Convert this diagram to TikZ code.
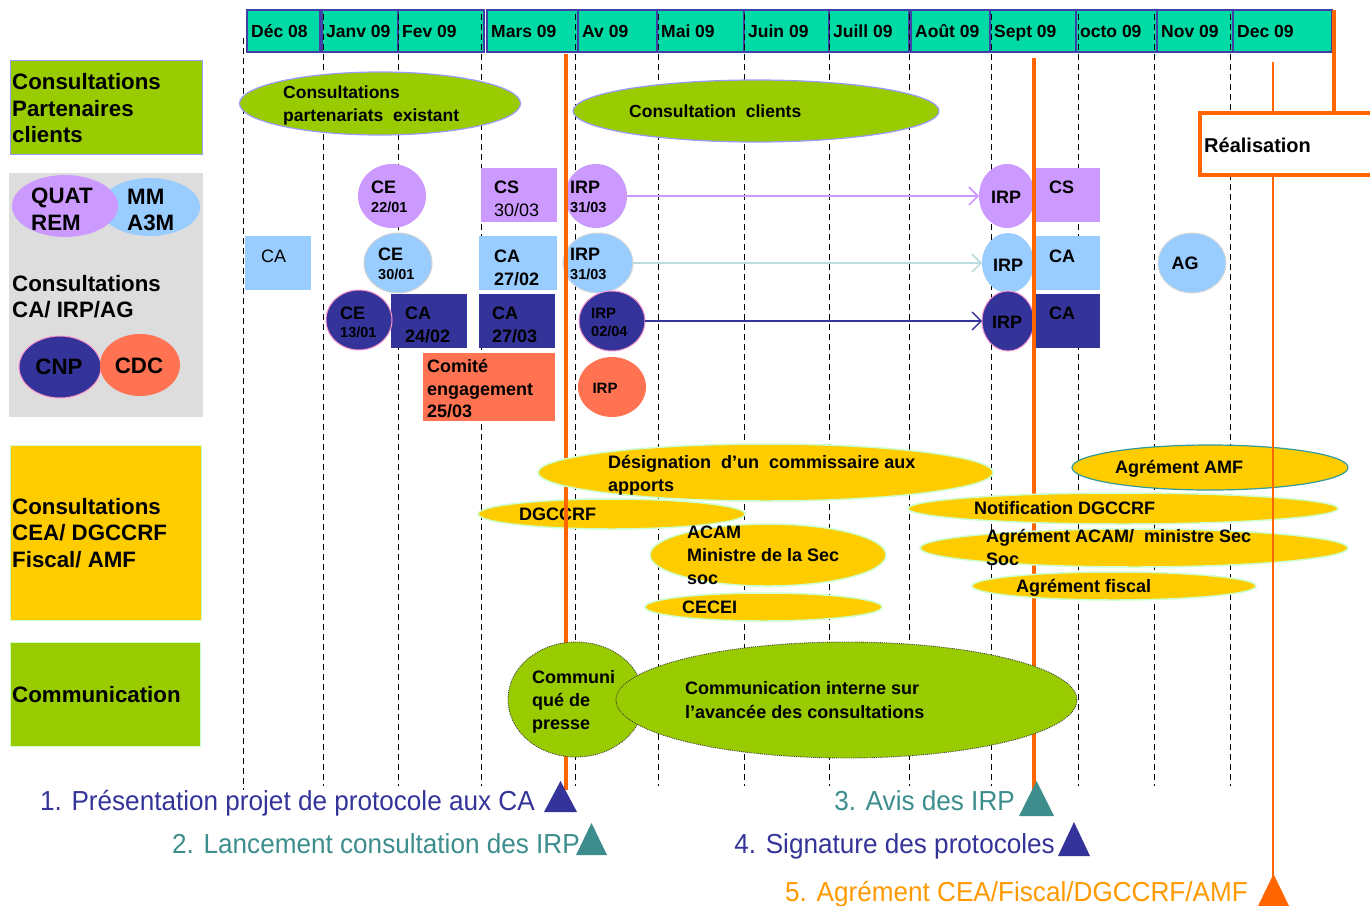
\documentclass[tikz,border=0pt]{standalone}
\usepackage{fontspec}
\setmainfont{Liberation Sans}
\newfontfamily\narrowfont[FakeStretch=0.95]{Liberation Sans}
\usetikzlibrary{shapes.geometric,arrows.meta}
\definecolor{hdr}{HTML}{00DBA5}
\definecolor{hdrline}{HTML}{4040A8}
\definecolor{grn}{HTML}{99CC00}
\definecolor{lborder}{HTML}{9999FF}
\definecolor{vio}{HTML}{CC99FF}
\definecolor{lblue}{HTML}{99CCFF}
\definecolor{dblue}{HTML}{333399}
\definecolor{coral}{HTML}{FF7352}
\definecolor{lgray}{HTML}{DDDDDD}
\definecolor{yel}{HTML}{FFCC00}
\definecolor{yborder}{HTML}{CCFFCC}
\definecolor{orng}{HTML}{FF6600}
\definecolor{orng2}{HTML}{FF9900}
\definecolor{teal2}{HTML}{3D8D8D}
\definecolor{pinkb}{HTML}{FF99CC}
\definecolor{cyanarr}{HTML}{BBDDDD}
\definecolor{amfb}{HTML}{339999}
\newcommand\fsz[2]{\fontsize{#1}{#2}\selectfont}
\begin{document}
\begin{tikzpicture}[x=1pt,y=-1pt,
  shp/.style={inner sep=0pt, outer sep=0pt},
  ell/.style={shp, ellipse},
  rbox/.style={shp, rectangle, anchor=north west},
  hdrbox/.style={shp, rectangle, draw=hdrline, fill=hdr, line width=1.2pt},
  hd/.style={inner sep=0pt, anchor=base west, font=\bfseries\fsz{17.5}{20}},
  bA/.style={inner sep=0pt, anchor=base west, font=\bfseries\fsz{18}{20}},
  bS/.style={inner sep=0pt, anchor=base west, font=\bfseries\fsz{14.5}{16}},
  rA/.style={inner sep=0pt, anchor=base west, font=\fsz{18}{20}},
  bL/.style={inner sep=0pt, anchor=base west, font=\bfseries\fsz{22.3}{24}},
  bE/.style={inner sep=0pt, anchor=base west, font=\bfseries\fsz{17.5}{20}},
  ms/.style={inner sep=0pt, anchor=base east, font=\narrowfont\fsz{27.5}{30}},
  dash line/.style={line width=1pt, dash pattern=on 6pt off 4pt},
  orthick/.style={draw=orng, line width=4pt},
  yell/.style={ell, fill=yel, draw=yborder, line width=1.5pt},
  gell/.style={ell, fill=grn, draw=lborder, line width=1.2pt},
  arr/.style={-{Straight Barb[length=9pt,width=18pt]}, line width=1.6pt}
]
\useasboundingbox (0,0) rectangle (1370,905);

% ---------- left column ----------
\node[rbox, fill=grn, draw=lborder, line width=1pt, minimum width=192, minimum height=94] (lb1) at (10,60) {};
\node[bL] (lb1a) at (12,89) {Consultations};
\node[bL] (lb1b) at (12,116) {Partenaires};
\node[bL] (lb1c) at (12,142) {clients};

\node[rbox, fill=lgray, minimum width=194, minimum height=244] (lb2) at (9,173) {};
\node[ell, fill=lblue, minimum width=100, minimum height=58] (mm) at (150,207) {};
\node[ell, fill=vio, minimum width=106, minimum height=62] (quat) at (65,206) {};
\node[bL] (quata) at (31,203) {QUAT};
\node[bL] (quatb) at (31,230) {REM};
\node[bL] (mma) at (127,204) {MM};
\node[bL] (mmb) at (127,230) {A3M};
\node[bL] (lb2a) at (12,291) {Consultations};
\node[bL] (lb2b) at (12,317) {CA/ IRP/AG};
\node[ell, fill=dblue, draw=pinkb, line width=1pt, minimum width=82, minimum height=62] (cnp) at (60,367) {};
\node[ell, fill=coral, minimum width=80, minimum height=62] (cdc) at (140,365) {};
\node[inner sep=0pt, font=\bfseries\fsz{22.3}{24}] (cnpt) at (59,367) {CNP};
\node[inner sep=0pt, font=\bfseries\fsz{22.3}{24}] (cdct) at (139,366) {CDC};

\node[rbox, fill=yel, draw=yborder, line width=1pt, minimum width=191, minimum height=175] (lb3) at (10,445) {};
\node[bL] (lb3a) at (12,514) {Consultations};
\node[bL] (lb3b) at (12,540) {CEA/ DGCCRF};
\node[bL] (lb3c) at (12,567) {Fiscal/ AMF};

\node[rbox, fill=grn, draw=yborder, line width=1pt, minimum width=190, minimum height=104] (lb4) at (10,642) {};
\node[bL] (lb4a) at (12,702) {Communication};

% ---------- header ----------
\foreach \n/\xx/\w/\t in {mA/247/73/Déc 08, mB/322/76/Janv 09, mC/398/86/Fev 09, mD/487/91/Mars 09,
  mE/578/79/Av 09, mF/657/87/Mai 09, mG/744/85/Juin 09, mH/829/80/Juill 09, mI/911/79/Août 09,
  mJ/990/86/Sept 09, mK/1076/81/octo 09, mL/1157/76/Nov 09, mM/1233/99/Dec 09}{
  \node[hdrbox, minimum width=\w, minimum height=42] (\n) at (\xx+\w/2,31) {};
  \node[hd] (\n-t) at (\xx+4,37) {\t};
}

% ---------- dashed month lines ----------
\draw[dash line] (243,38) -- (243,790);
\foreach \xx in {323,398,481,575,658,744,829,909,991,1078,1154,1230}{
  \draw[dash line] (\xx,14) -- (\xx,786);
}

% ---------- top ellipses ----------
\node[gell, minimum width=281, minimum height=63] (cpe) at (380,103.5) {};
\node[bE] (cpea) at (283,98.3) {Consultations};
\node[bE] (cpeb) at (283,121.3) {partenariats\ \ existant};
\node[gell, minimum width=366, minimum height=62] (cc) at (756,111) {};
\node[bE] (cct) at (629,117.3) {Consultation\ \ clients};

% ---------- violet row ----------
\node[ell, fill=vio, minimum width=68, minimum height=64] (ce1) at (392,196) {};
\node[bA] (ce1a) at (371,193.5) {CE};
\node[bS] (ce1b) at (371,212.2) {22/01};
\node[rbox, fill=vio, minimum width=76, minimum height=54] (cs1) at (481,168) {};
\node[bA] (cs1a) at (494,193.5) {CS};
\node[rA] (cs1b) at (494,216.5) {30/03};
\node[ell, fill=vio, minimum width=62, minimum height=64] (irp1) at (596,196) {};
\node[bA] (irp1a) at (570,193.5) {IRP};
\node[bS] (irp1b) at (570,212.2) {31/03};
\node[ell, fill=vio, minimum width=56, minimum height=64] (irp1r) at (1007,196) {};
\node[bA, anchor=center] (irp1rt) at (1006,197) {IRP};
\node[rbox, fill=vio, minimum width=65, minimum height=54] (cs2) at (1035,168) {};
\node[bA] (cs2a) at (1049,193.5) {CS};

% ---------- light blue row ----------
\node[rbox, fill=lblue, minimum width=66, minimum height=54] (ca0) at (245,236) {};
\node[rA] (ca0t) at (261,262.5) {CA};
\node[ell, fill=lblue, draw=gray!35, line width=1pt, minimum width=68, minimum height=60] (ce2) at (398,263) {};
\node[bA] (ce2a) at (378,260.5) {CE};
\node[bS] (ce2b) at (378,279.2) {30/01};
\node[rbox, fill=lblue, minimum width=78, minimum height=54] (ca1) at (479,236) {};
\node[bA] (ca1a) at (494,262.5) {CA};
\node[bA] (ca1b) at (494,285.5) {27/02};
\node[ell, fill=lblue, draw=gray!30, line width=1pt, minimum width=70, minimum height=60] (irp2) at (598,263) {};
\node[bA] (irp2a) at (570,260.5) {IRP};
\node[bS] (irp2b) at (570,279.2) {31/03};
\node[ell, fill=lblue, minimum width=52, minimum height=60] (irp2r) at (1008,263) {};
\node[bA, anchor=center] (irp2rt) at (1008,265) {IRP};
\node[rbox, fill=lblue, minimum width=65, minimum height=54] (ca2) at (1035,236) {};
\node[bA] (ca2a) at (1049,262.5) {CA};
\node[ell, fill=lblue, draw=gray!30, line width=1pt, minimum width=68, minimum height=60] (ag) at (1192,263) {};
\node[bA, anchor=center] (agt) at (1185,263) {AG};

% ---------- dark blue row ----------
\node[rbox, fill=dblue, minimum width=76, minimum height=54] (ca3) at (391,294) {};
\node[ell, fill=dblue, draw=pinkb, line width=1pt, minimum width=66, minimum height=60] (ce3) at (359,320) {};
\node[bA] (ce3a) at (340,319.5) {CE};
\node[bS] (ce3b) at (340,337.2) {13/01};
\node[bA] (ca3a) at (405,319.5) {CA};
\node[bA] (ca3b) at (405,342.5) {24/02};
\node[rbox, fill=dblue, minimum width=76, minimum height=54] (ca4) at (479,294) {};
\node[bA] (ca4a) at (492,319.5) {CA};
\node[bA] (ca4b) at (492,342.5) {27/03};
\node[ell, fill=dblue, draw=pinkb, line width=1pt, minimum width=66, minimum height=60] (irp3) at (612,321) {};
\node[bS, font=\bfseries\fsz{15}{17}] (irp3a) at (591,318.4) {IRP};
\node[bS] (irp3b) at (591,336.2) {02/04};
\node[ell, fill=dblue, draw=pinkb, line width=1pt, minimum width=52, minimum height=60] (irp3r) at (1008,321) {};
\node[bA, anchor=center] (irp3rt) at (1007,322) {IRP};
\node[rbox, fill=dblue, minimum width=65, minimum height=54] (ca5) at (1035,294) {};
\node[bA] (ca5a) at (1049,319.5) {CA};

% ---------- coral row ----------
\node[rbox, fill=coral, minimum width=132, minimum height=68] (comite) at (423,353) {};
\node[bA] (comitea) at (427,372.5) {Comité};
\node[bA] (comiteb) at (427,395.5) {engagement};
\node[bA] (comitec) at (427,417.5) {25/03};
\node[ell, fill=coral, minimum width=68, minimum height=60] (irp4) at (612,387) {};
\node[bA, anchor=center, font=\bfseries\fsz{15}{17}] (irp4t) at (605,388) {IRP};

% ---------- arrows ----------
\draw[arr, draw=vio] (irp1) -- (irp1r);
\draw[arr, draw=cyanarr] (irp2) -- (irp2r);
\draw[arr, draw=dblue, line width=1.3pt] (irp3) -- (irp3r);

% ---------- DGCCRF (under orange line) ----------
\node[yell, minimum width=267, minimum height=30] (dgccrf) at (611.5,514) {};
\node[bA] (dgccrft) at (519,520.5) {DGCCRF};

% ---------- orange milestone lines ----------
\coordinate (o1top) at (566,54);
\coordinate (o1bot) at (566,790);
\coordinate (o3top) at (1034,58);
\coordinate (o3bot) at (1034,790);
\draw[orthick] (o1top) -- (o1bot);
\draw[orthick] (o3top) -- (o3bot);

% ---------- yellow ellipses ----------
\node[yell, minimum width=455, minimum height=57] (desig) at (765.5,472.5) {};
\node[bA] (desiga) at (608,468.5) {Désignation\ \ d’un\ \ commissaire aux};
\node[bA] (desigb) at (608,491.5) {apports};
\node[yell, minimum width=236, minimum height=62] (acam) at (768,555) {};
\node[bA] (acama) at (687,538.5) {ACAM};
\node[bA] (acamb) at (687,561.5) {Ministre de la Sec};
\node[bA] (acamc) at (687,584.5) {soc};
\node[yell, minimum width=237, minimum height=28] (cecei) at (763.5,607) {};
\node[bA] (ceceit) at (682,613.5) {CECEI};

\node[ell, fill=yel, draw=amfb, line width=1.2pt, minimum width=276, minimum height=45] (amf) at (1210,467.5) {};
\node[bA] (amft) at (1115,473.5) {Agrément AMF};
\node[yell, minimum width=430, minimum height=31] (notif) at (1123,508.5) {};
\node[bA] (notift) at (974,514.5) {Notification DGCCRF};
\node[yell, minimum width=428, minimum height=38] (agacam) at (1134,548) {};
\node[bA] (agacama) at (986,542.5) {Agrément ACAM/\ \ ministre Sec};
\node[bA] (agacamb) at (986,565.5) {Soc};
\node[yell, minimum width=284, minimum height=28] (fisc) at (1114,586) {};
\node[bA] (fisct) at (1016,592.5) {Agrément fiscal};

% ---------- communication ----------
\node[ell, fill=grn, draw=black!75, densely dotted, line width=0.9pt, minimum width=136, minimum height=115] (cpress) at (576,699.5) {};
\node[bA] (cpressa) at (532,683.5) {Communi};
\node[bA] (cpressb) at (532,706.5) {qué de};
\node[bA] (cpressc) at (532,729.5) {presse};
\node[ell, fill=grn, draw=black!75, densely dotted, line width=0.9pt, minimum width=461, minimum height=116] (cint) at (846.5,700) {};
\node[bA] (cinta) at (685,694.5) {Communication interne sur};
\node[bA] (cintb) at (685,718.5) {l’avancée des consultations};

% ---------- thin orange line and Réalisation ----------
\coordinate (o5top) at (1273,62);
\coordinate (o5bot) at (1273,880);
\draw[draw=orng, line width=1.5pt] (o5top) -- (o5bot);
\node[rbox, fill=white, draw=orng, line width=4pt, minimum width=180, minimum height=62] (real) at (1200,113) {};
\node[bA, font=\bfseries\fsz{20}{22}] (realt) at (1204,152) {Réalisation};
\coordinate (rtop) at (1334,10);
\coordinate (rbot) at (1334,111);
\draw[orthick] (rtop) -- (rbot);

% ---------- milestones ----------
\node[ms, text=dblue] (ms1) at (535,810) {1. Présentation projet de protocole aux CA};
\fill[dblue] (544,812) -- (577,812) -- (560.5,781) -- cycle;
\node[ms, text=teal2] (ms2) at (580,853) {2. Lancement consultation des IRP};
\fill[teal2] (576,855) -- (607,855) -- (591.5,823) -- cycle;
\node[ms, text=teal2] (ms3) at (1015,810) {3. Avis des IRP};
\fill[teal2] (1019,816) -- (1054,816) -- (1036.5,781) -- cycle;
\node[ms, text=dblue] (ms4) at (1055,853) {4. Signature des protocoles};
\fill[dblue] (1058,856) -- (1090,856) -- (1074,822) -- cycle;
\node[ms, text=orng2] (ms5) at (1248,901) {5. Agrément CEA/Fiscal/DGCCRF/AMF};
\fill[orng] (1258,906) -- (1289,906) -- (1273.5,874) -- cycle;
\end{tikzpicture}
\end{document}
